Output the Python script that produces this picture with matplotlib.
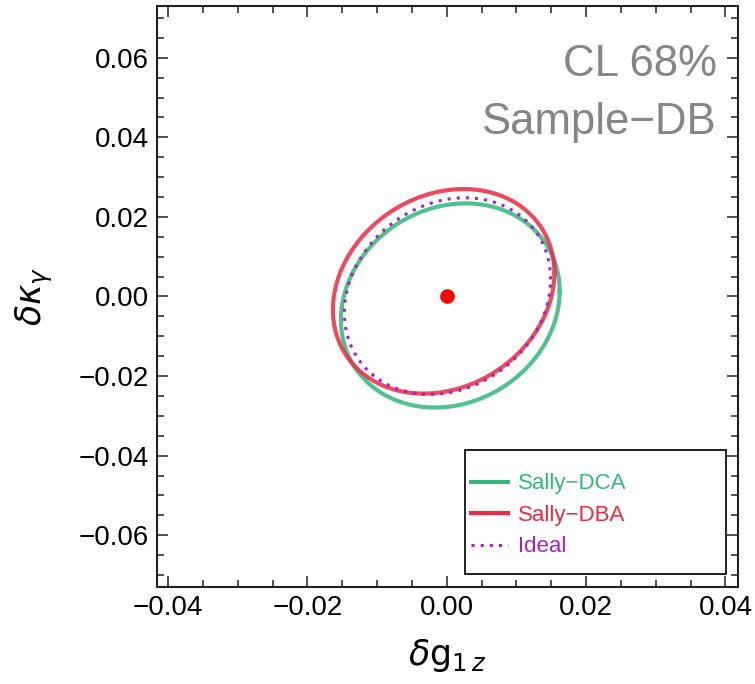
import numpy as np
import matplotlib
matplotlib.use("Agg")
import matplotlib.pyplot as plt
from matplotlib.patches import Rectangle
from matplotlib.ticker import MultipleLocator

plt.rcParams['font.family'] = ['Liberation Sans', 'DejaVu Sans']
plt.rcParams['mathtext.fontset'] = 'dejavusans'

# Contour ellipses (68% CL): center, half-extents, correlation
labels = ["Sally\u2212DCA", "Sally\u2212DBA", "Ideal"]
center_x = [0.0005, -0.00045, 0.0001]
center_y = [-0.00225, 0.0013, 0.0001]
half_x = [0.0157, 0.0159, 0.0148]
half_y = [0.02565, 0.0257, 0.0247]
corr = [0.14, 0.18, 0.17]
colors = ['#34B67F', '#E82A43', '#A322C2']
best_fit = [0.0, 0.0]

x_ticks = [-0.04, -0.02, 0.00, 0.02, 0.04]
y_ticks = [-0.06, -0.04, -0.02, 0.00, 0.02, 0.04, 0.06]

fig = plt.figure(figsize=(7.55, 6.84), dpi=100)
ax = fig.add_axes([157/755, 1-587/684, 581/755, 581/684])

t = np.linspace(0, 2*np.pi, 400)
handles = []
for i in range(3):
    xs = center_x[i] + half_x[i]*np.cos(t)
    ys = center_y[i] + half_y[i]*(corr[i]*np.cos(t) + np.sqrt(1-corr[i]**2)*np.sin(t))
    if i < 2:
        h, = ax.plot(xs, ys, color=colors[i], lw=3.0, alpha=0.85, label=labels[i], zorder=2+i)
    else:
        h, = ax.plot(xs, ys, color=colors[i], lw=2.2, ls=(0, (1, 2.0)), label=labels[i], zorder=5)
    handles.append(h)

ax.plot([best_fit[0]], [best_fit[1]], 'o', color='#FF0000', ms=9.5, zorder=6)

ax.set_xlim(-0.0416, 0.0418)
ax.set_ylim(-0.073, 0.073)
ax.set_xticks(x_ticks)
ax.set_yticks(y_ticks)
ax.set_xticklabels([("\u2212" if v < 0 else "") + f"{abs(v):.2f}" for v in x_ticks])
ax.set_yticklabels([("\u2212" if v < 0 else "") + f"{abs(v):.2f}" for v in y_ticks])
ax.xaxis.set_minor_locator(MultipleLocator(0.005))
ax.yaxis.set_minor_locator(MultipleLocator(0.005))
ax.tick_params(which='both', direction='in', top=True, right=True, color='#222222', width=1.1)
ax.tick_params(which='major', length=8, labelsize=20, pad=6)
ax.tick_params(which='minor', length=5)
for s in ax.spines.values():
    s.set_linewidth(1.5)
    s.set_color('#222222')

ax.set_xlabel(r'$\delta\mathrm{g}_{1\,z}$', fontsize=25, labelpad=11)
ax.set_ylabel(r'$\delta\kappa_{\gamma}$', fontsize=25, labelpad=17)

ax.text(0.964, 0.899, "CL 68%", transform=ax.transAxes, ha='right', va='center',
        fontsize=31.5, color='#858585')
ax.text(0.961, 0.799, "Sample\u2212DB", transform=ax.transAxes, ha='right', va='center',
        fontsize=31.5, color='#858585')

# legend box
x0 = (465-157)/581; x1 = (726-157)/581
y0 = (587-574)/581; y1 = (587-450)/581
ax.add_patch(Rectangle((x0, y0), x1-x0, y1-y0, transform=ax.transAxes, fill=True,
                       facecolor='white', edgecolor='#111111', lw=1.3, zorder=7))
leg = ax.legend(handles=handles, loc='upper left', bbox_to_anchor=(x0-0.005, y1-0.025),
                frameon=False, fontsize=16, handlelength=1.65, handletextpad=0.45,
                labelspacing=0.47, borderaxespad=0)
leg.set_zorder(8)
for txt, c in zip(leg.get_texts(), colors):
    txt.set_color(c)
for lh in leg.get_lines():
    lh.set_alpha(1.0)

fig.savefig('out.png', dpi=100)
